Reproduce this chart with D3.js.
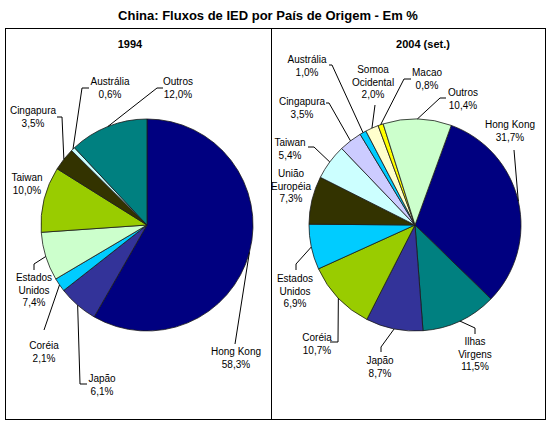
<!DOCTYPE html>
<html lang="pt">
<head>
  <meta charset="UTF-8">
  <script src="https://d3js.org/d3.v7.min.js"></script>
  <title>China: Fluxos de IED por País de Origem</title>
  <style>
    body { margin: 0; background: white; }
    text { font-family: "Liberation Sans", Arial, sans-serif; fill: black; }
  </style>
</head>
<body>
<div id="chart"></div>
<script>
  // data
  var countries1994 = ["Hong Kong", "Japão", "Coréia", "Estados Unidos", "Taiwan", "Cingapura", "Austrália", "Outros"];
  var values1994 = [58.3, 6.1, 2.1, 7.4, 10.0, 3.5, 0.6, 12.0];

  var countries2004 = ["Hong Kong", "Ilhas Virgens", "Japão", "Coréia", "Estados Unidos", "União Européia",
    "Taiwan", "Cingapura", "Austrália", "Somoa Ocidental", "Macao", "Outros"];
  var values2004 = [31.7, 11.5, 8.7, 10.7, 6.9, 7.3, 5.4, 3.5, 1.0, 2.0, 0.8, 10.4];

  // colours per slice (Excel palette)
  var colors1994 = ["#000080", "#333399", "#00ccff", "#ccffcc", "#99cc00", "#333300", "#ccffff", "#008080"];
  var colors2004 = ["#000080", "#008080", "#333399", "#99cc00", "#00ccff", "#333300",
    "#ccffff", "#ccccff", "#00ccff", "#ffffcc", "#ffff00", "#ccffcc"];

  // label lines as they are broken in the picture
  var lines1994 = [["Hong Kong"], ["Japão"], ["Coréia"], ["Estados", "Unidos"], ["Taiwan"], ["Cingapura"], ["Austrália"], ["Outros"]];
  var lines2004 = [["Hong Kong"], ["Ilhas", "Virgens"], ["Japão"], ["Coréia"], ["Estados", "Unidos"], ["União", "Européia"],
    ["Taiwan"], ["Cingapura"], ["Austrália"], ["Somoa", "Ocidental"], ["Macao"], ["Outros"]];

  // label placement: text centre + leader bends (layout only)
  var layout1994 = [
    { x: 236, y: 351, lead: [[235, 344]] },
    { x: 102, y: 378, lead: [[80, 384], [87, 384]] },
    { x: 44, y: 345, lead: [[44, 330]] },
    { x: 34, y: 277, lead: [[34, 264], [34, 270]] },
    { x: 27, y: 177, lead: null },
    { x: 33, y: 110, lead: [[62, 117], [57, 117]] },
    { x: 110, y: 81, lead: [[82, 88], [89, 88]] },
    { x: 178, y: 81, lead: [[157, 88], [163, 88]] }
  ];
  var layout2004 = [
    { x: 510, y: 124, lead: [[514, 150]] },
    { x: 475, y: 341, lead: [[475, 328], [475, 334]] },
    { x: 380, y: 360, lead: [[381, 347], [381, 352]] },
    { x: 317, y: 337, lead: [[338, 342], [330, 342]] },
    { x: 295, y: 278, lead: [[296, 264], [296, 270]] },
    { x: 291, y: 173, lead: null },
    { x: 290, y: 142, lead: [[314, 147], [308, 147]] },
    { x: 302, y: 101, lead: [[329, 103], [326, 103]] },
    { x: 307, y: 59, lead: [[332, 65], [329, 65]] },
    { x: 373, y: 69, lead: [[375, 105]] },
    { x: 427, y: 72, lead: [[404, 79], [411, 79]] },
    { x: 463, y: 92, lead: [[440, 98], [446, 98]] }
  ];

  var fmt = function (v) { return d3.format(".1f")(v).replace(".", ",") + "%"; };

  var svg = d3.select("#chart").append("svg")
    .attr("width", 550)
    .attr("height", 424);

  svg.append("text")
    .attr("x", 268).attr("y", 20)
    .attr("text-anchor", "middle")
    .style("font-weight", "bold")
    .style("font-size", "13px")
    .text("China: Fluxos de IED por País de Origem - Em %");

  // panel frames
  svg.append("rect").attr("x", 5.5).attr("y", 28.5).attr("width", 266).attr("height", 391)
    .attr("fill", "none").attr("stroke", "black");
  svg.append("rect").attr("x", 271.5).attr("y", 28.5).attr("width", 274).attr("height", 391)
    .attr("fill", "none").attr("stroke", "black");

  function drawPie(opts) {
    var r = 106;
    var g = svg.append("g");

    g.append("text")
      .attr("x", opts.titleX).attr("y", 48)
      .attr("text-anchor", "middle")
      .style("font-weight", "bold")
      .style("font-size", "11px")
      .text(opts.title);

    var pie = d3.pie()
      .sort(null)
      .startAngle(opts.start)
      .endAngle(opts.start + 2 * Math.PI);
    var arcs = pie(opts.values);

    var arc = d3.arc().innerRadius(0).outerRadius(r);
    var color = d3.scaleOrdinal().domain(opts.names).range(opts.colors);

    var pg = g.append("g").attr("transform", "translate(" + opts.cx + "," + opts.cy + ")");
    pg.selectAll("path")
      .data(arcs)
      .enter()
      .append("path")
      .attr("d", arc)
      .attr("fill", (d, i) => color(opts.names[i]))
      .attr("stroke", "#1a1a1a")
      .attr("stroke-width", 0.8);

    // leader lines start at the slice edge, mid angle
    var line = d3.line();
    arcs.forEach(function (a, i) {
      var lay = opts.layout[i];
      if (!lay.lead) return;
      var mid = (a.startAngle + a.endAngle) / 2;
      var p0 = [opts.cx + r * Math.sin(mid), opts.cy - r * Math.cos(mid)];
      g.append("path")
        .attr("d", line([p0].concat(lay.lead)))
        .attr("fill", "none")
        .attr("stroke", "black")
        .attr("stroke-width", 1);
    });

    // labels
    arcs.forEach(function (a, i) {
      var lay = opts.layout[i];
      var rows = opts.lines[i].concat([fmt(opts.values[i])]);
      var t = g.append("text")
        .attr("text-anchor", "middle")
        .style("font-size", "10px");
      rows.forEach(function (s, k) {
        t.append("tspan")
          .attr("x", lay.x)
          .attr("y", lay.y + 4 + k * 12.5)
          .text(s);
      });
    });
  }

  drawPie({
    title: "1994", titleX: 130, cx: 147, cy: 225, start: 0,
    names: countries1994, values: values1994, colors: colors1994,
    lines: lines1994, layout: layout1994
  });

  drawPie({
    title: "2004 (set.)", titleX: 423, cx: 415, cy: 225, start: 20 * Math.PI / 180,
    names: countries2004, values: values2004, colors: colors2004,
    lines: lines2004, layout: layout2004
  });
</script>
</body>
</html>
